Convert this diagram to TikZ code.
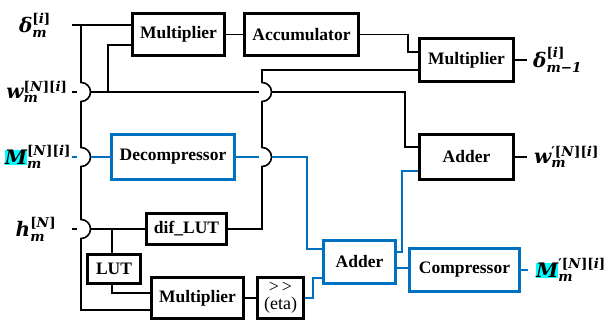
\documentclass[tikz,border=0pt]{standalone}
\usepackage{amsmath}
\usepackage{fontspec}
\setmainfont{Liberation Serif}
\newfontfamily\lblfont{DejaVu Serif}
\definecolor{flowblue}{RGB}{0,112,192}
\definecolor{hlcyan}{RGB}{0,255,255}
% signal names: bold italic letter with bold scripts
\newcommand{\lmain}{\fontsize{20}{20}\lblfont\bfseries\itshape}
\newcommand{\lscr}{\fontsize{13.5}{13.5}\lblfont\bfseries}
\newcommand{\sig}[3]{$\mbox{\lmain #1}_{\mbox{\lscr #2}}^{\mbox{\lscr #3}}$}
\newcommand{\hlbox}[1]{{\setlength{\fboxsep}{0pt}\colorbox{hlcyan}{#1}}}
\begin{document}
\begin{tikzpicture}[x=1pt,y=-1pt,
  box/.style={draw, line width=2.6pt, inner sep=0pt,
    font=\fontsize{17.5}{20}\selectfont\bfseries},
  bbox/.style={box, draw=flowblue},
  wire/.style={line width=1.6pt},
  bwire/.style={wire, draw=flowblue},
  lbl/.style={inner sep=0pt, font=\fontsize{19}{21}\selectfont},
]
\useasboundingbox (0,0) rectangle (604,323);

% processing blocks
\node[box, minimum width=92.5pt, minimum height=42.5pt] (mulA) at (178.5,34.5) {Multiplier};
\node[box, minimum width=114.5pt, minimum height=42.5pt] (acc) at (301.5,34.5) {Accumulator};
\node[box, minimum width=94.5pt, minimum height=43.5pt] (mulB) at (466.5,60) {Multiplier};
\node[box, minimum width=94.5pt, minimum height=44.5pt] (addW) at (466.5,157) {Adder};
\node[bbox, minimum width=123.5pt, minimum height=44.5pt] (decomp) at (173,157) {Decompressor};
\node[box, minimum width=80.5pt, minimum height=30.5pt] (diflut) at (186.5,229) {dif\_LUT};
\node[box, minimum width=53.5pt, minimum height=29.5pt] (lut) at (114,269) {LUT};
\node[box, minimum width=92.5pt, minimum height=40.5pt] (mulC) at (197.5,298) {Multiplier};
\node[box, minimum width=46.5pt, minimum height=40.5pt, align=center,
  font=\fontsize{18}{17}\selectfont] (eta) at (280.5,298) {>\,>\\(eta)};
\node[bbox, minimum width=72.5pt, minimum height=43.5pt] (addM) at (359.5,262) {Adder};
\node[bbox, minimum width=110.5pt, minimum height=43.5pt] (comp) at (464.5,270) {Compressor};

% signal labels
\node[lbl] (lD) at (35,25) {\sig{δ}{\itshape m}{[\textit{i}]}};
\node[lbl] (lW) at (37,92) {\sig{w}{\itshape m}{[\textit{N}][\textit{i}]}};
\node[lbl] (lM) at (38,157) {\sig{\hlbox{M}}{\itshape m}{[\textit{N}][\textit{i}]}};
\node[lbl] (lH) at (36,229) {\sig{h}{\itshape m}{[\textit{N}]}};
\node[lbl, anchor=west] (lDo) at (533,60) {\sig{δ}{\itshape m−1}{[\textit{i}]}};
\node[lbl, anchor=west] (lWo) at (534,157) {\sig{w}{\itshape m}{′[\textit{N}][\textit{i}]}};
\node[lbl, anchor=west] (lMo) at (536,270) {\sig{\hlbox{M}}{\itshape m}{′[\textit{N}][\textit{i}]}};

% wire end points next to the labels
\coordinate (inD) at (72,25);
\coordinate (inW) at (72,92);
\coordinate (inM) at (72,157);
\coordinate (inH) at (72,229);
\coordinate (outD) at (527,60);
\coordinate (outW) at (527,157);
\coordinate (outM) at (528,270);

% delta input and the left bus with hops
\draw[wire] (inD) -- (mulA.west |- inD);
\draw[wire] (81,25) -- (81,82.5) arc[start angle=90, end angle=-90, radius=9.5pt]
  -- (81,147.5) arc[start angle=90, end angle=-90, radius=9.5pt]
  -- (81,219.5) arc[start angle=90, end angle=-90, radius=9.5pt]
  -- (81,310) -- (mulC.west |- 0,310);

% w input
\draw[wire] (inW) -- (77,92);
\draw[wire] (90.5,92) -- (259,92);
\draw[wire] (271.5,92) -- (405,92) -- (405,147) -- (addW.west |- 0,147);
\draw[wire] (108,92) -- (108,45) -- (mulA.west |- 0,45);

% top chain
\draw[wire] (mulA) -- (acc);
\draw[wire] (acc.east) -- (408,34.5) -- (408,52) -- (mulB.west |- 0,52);
\draw[wire] (mulB) -- (outD);

% dif_LUT feedback with hops
\draw[wire] (diflut.east) -- (262,229) -- (262,166.5)
  arc[start angle=-90, end angle=90, radius=9.5pt]
  -- (262,101.5) arc[start angle=-90, end angle=90, radius=9.5pt]
  -- (262,70) -- (mulB.west |- 0,70);
\draw[wire] (addW) -- (outW);

% M input and decompressor path
\draw[bwire] (inM) -- (77,157);
\draw[bwire] (90.5,157) -- (decomp.west);
\draw[bwire] (decomp.east) -- (259,157);
\draw[bwire] (271.5,157) -- (307,157) -- (307,249) -- (addM.west |- 0,249);

% h input
\draw[wire] (inH) -- (77,229);
\draw[wire] (90.5,229) -- (diflut.west);
\draw[wire] (112,229) -- (112,254);
\draw[wire] (112,284) -- (112,293) -- (mulC.west |- 0,293);
\draw[wire] (mulC) -- (eta);

% blue outputs
\draw[bwire] (eta.east) -- (313,298) -- (313,278) -- (addM.west |- 0,278);
\draw[bwire] (addM.east |- 0,252) -- (402,252) -- (402,171) -- (addW.west |- 0,171);
\draw[bwire] (addM.east |- 0,268) -- (comp.west |- 0,268);
\draw[bwire] (comp) -- (outM);
\end{tikzpicture}
\end{document}
